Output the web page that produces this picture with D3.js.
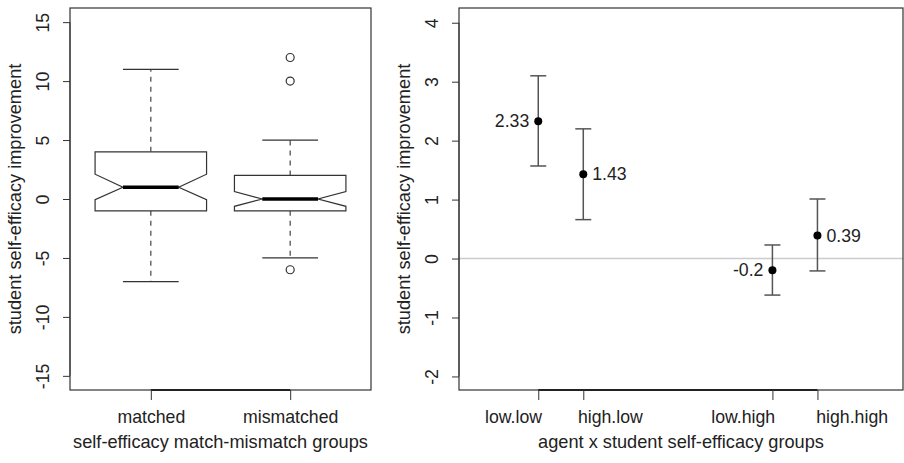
<!DOCTYPE html>
<html><head><meta charset="utf-8">
<script src="https://cdn.jsdelivr.net/npm/d3@7"></script>
<style>body{margin:0;background:#fff}svg{display:block}text{font-family:"Liberation Sans",Arial,sans-serif;fill:#222}</style>
</head><body>
<script>
// ---- Left panel data (box plots) ----
const boxCats = ["matched", "mismatched"];
const boxPos = [1, 2];
const boxLabelPos = [1, 2];
const boxQ1 = [-1, -1];
const boxMed = [1, 0];
const boxQ3 = [4, 2];
const whiskLo = [-7, -5];
const whiskHi = [11, 5];
const notchLo = [-0.05, -0.62];
const notchHi = [2.1, 0.63];
const outliers = [[], [12, 10, -6]];
const leftTicks = [-15, -10, -5, 0, 5, 10, 15];

// ---- Right panel data (means with error bars) ----
const groups = ["low.low", "high.low", "low.high", "high.high"];
const groupPos = [1, 2, 6.2, 7.2];
const groupLabelPos = [0.44, 2.59, 5.54, 7.96];
const means = [2.33, 1.43, -0.2, 0.39];
const ciLo = [1.57, 0.66, -0.62, -0.21];
const ciHi = [3.1, 2.2, 0.23, 1.01];
const meanLabels = ["2.33", "1.43", "-0.2", "0.39"];
const labelSide = ["left", "right", "left", "right"];
const rightTicks = [-2, -1, 0, 1, 2, 3, 4];

const W = 904, H = 463, FS = 17.7, FT = 18.2;
const svg = d3.select("body").append("svg").attr("width", W).attr("height", H);

function panel(x0, x1, xDomain, yDomain) {
  const top = 8, bottom = 390;
  return {
    x: d3.scaleLinear().domain(xDomain).range([x0, x1]),
    y: d3.scaleLinear().domain(yDomain).range([bottom, top]),
    x0, x1, top, bottom
  };
}
function frame(p, g, yTicks, xPos, xLabelPos, xLabels, xTitle, yTitle) {
  g.append("rect").attr("x", p.x0).attr("y", p.top).attr("width", p.x1 - p.x0).attr("height", p.bottom - p.top)
    .attr("fill", "none").attr("stroke", "#333").attr("stroke-width", 1.2);
  const ya = g.append("g").attr("transform", `translate(${p.x0},0)`)
    .call(d3.axisLeft(p.y).tickValues(yTicks).tickSize(7).tickSizeOuter(0).tickFormat(d => String(d)));
  ya.select(".domain").attr("d", `M0,${p.y(yTicks[0])}V${p.y(yTicks[yTicks.length-1])}`).attr("stroke", "#333");
  ya.selectAll(".tick line").attr("stroke", "#333");
  ya.selectAll(".tick text").attr("font-size", FS).attr("fill", "#222").attr("font-family", "Liberation Sans, Arial, sans-serif")
    .attr("text-anchor", "middle").attr("dy", null).attr("x", null)
    .attr("transform", "translate(-27,0) rotate(-90)").attr("dominant-baseline", "central");
  const xs = d3.scaleOrdinal().domain(xLabels).range(xPos.map(v => p.x(v)));
  const xa = g.append("g").attr("transform", `translate(0,${p.bottom})`)
    .call(d3.axisBottom(xs).tickSize(10).tickSizeOuter(0));
  xa.select(".domain").attr("d", `M${p.x(xPos[0])},0H${p.x(xPos[xPos.length-1])}`).attr("stroke", "#222").attr("stroke-width", 2);
  xa.selectAll(".tick line").attr("stroke", "#333");
  xa.selectAll(".tick text").attr("font-size", FS).attr("fill", "#222").attr("font-family", "Liberation Sans, Arial, sans-serif")
    .attr("x", (d, i) => p.x(xLabelPos[i]) - p.x(xPos[i]))
    .attr("y", 27).attr("dy", null).attr("dominant-baseline", "central");
  g.append("text").attr("x", (p.x0 + p.x1) / 2).attr("y", 442).attr("text-anchor", "middle")
    .attr("dominant-baseline", "central").attr("font-size", FT).text(xTitle);
  g.append("text").attr("transform", `translate(${p.x0 - 55},${(p.top + p.bottom) / 2}) rotate(-90)`)
    .attr("text-anchor", "middle").attr("dominant-baseline", "central").attr("font-size", FT).text(yTitle);
}

// ---- Left panel ----
const L = panel(70, 371, [0.42, 2.58], [-16.2, 16.2]);
const gL = svg.append("g");
const bw = 0.8;
boxCats.forEach((c, i) => {
  const cx = boxPos[i];
  const xl = L.x(cx - bw / 2), xr = L.x(cx + bw / 2);
  const nl = L.x(cx - bw / 4), nr = L.x(cx + bw / 4);
  [[boxQ3[i], whiskHi[i]], [boxQ1[i], whiskLo[i]]].forEach(([a, b]) => {
    gL.append("line").attr("x1", L.x(cx)).attr("x2", L.x(cx)).attr("y1", L.y(a)).attr("y2", L.y(b))
      .attr("stroke", "#444").attr("stroke-width", 1.2).attr("stroke-dasharray", "5,5");
    gL.append("line").attr("x1", nl).attr("x2", nr).attr("y1", L.y(b)).attr("y2", L.y(b))
      .attr("stroke", "#333").attr("stroke-width", 1.2);
  });
  const pts = [[xl, L.y(boxQ3[i])], [xr, L.y(boxQ3[i])], [xr, L.y(notchHi[i])], [nr, L.y(boxMed[i])],
    [xr, L.y(notchLo[i])], [xr, L.y(boxQ1[i])], [xl, L.y(boxQ1[i])], [xl, L.y(notchLo[i])],
    [nl, L.y(boxMed[i])], [xl, L.y(notchHi[i])]];
  gL.append("path").attr("d", d3.line()(pts) + "Z").attr("fill", "#fff").attr("stroke", "#333").attr("stroke-width", 1.2);
  gL.append("line").attr("x1", nl).attr("x2", nr).attr("y1", L.y(boxMed[i])).attr("y2", L.y(boxMed[i]))
    .attr("stroke", "#000").attr("stroke-width", 3.5);
  outliers[i].forEach(v => {
    gL.append("circle").attr("cx", L.x(cx)).attr("cy", L.y(v)).attr("r", 4).attr("fill", "none")
      .attr("stroke", "#333").attr("stroke-width", 1.2);
  });
});
frame(L, gL, leftTicks, boxPos, boxLabelPos, boxCats, "self-efficacy match-mismatch groups", "student self-efficacy improvement");

// ---- Right panel ----
const R = panel(459, 903, [-0.76, 9.1], [-2.23, 4.25]);
const gR = svg.append("g");
gR.append("line").attr("x1", R.x0).attr("x2", R.x1).attr("y1", R.y(0)).attr("y2", R.y(0))
  .attr("stroke", "#ccc").attr("stroke-width", 1.5);
groups.forEach((gname, i) => {
  const cx = R.x(groupPos[i]);
  gR.append("line").attr("x1", cx).attr("x2", cx).attr("y1", R.y(ciLo[i])).attr("y2", R.y(ciHi[i]))
    .attr("stroke", "#555").attr("stroke-width", 1.5);
  [ciLo[i], ciHi[i]].forEach(v => gR.append("line").attr("x1", cx - 8).attr("x2", cx + 8)
    .attr("y1", R.y(v)).attr("y2", R.y(v)).attr("stroke", "#555").attr("stroke-width", 1.5));
  gR.append("circle").attr("cx", cx).attr("cy", R.y(means[i])).attr("r", 4).attr("fill", "#000");
  const left = labelSide[i] === "left";
  gR.append("text").attr("x", cx + (left ? -9 : 9)).attr("y", R.y(means[i]))
    .attr("text-anchor", left ? "end" : "start").attr("dominant-baseline", "central")
    .attr("font-size", FS).attr("fill", "#111").text(meanLabels[i]);
});
frame(R, gR, rightTicks, groupPos, groupLabelPos, groups, "agent x student self-efficacy groups", "student self-efficacy improvement");
</script>
</body></html>
